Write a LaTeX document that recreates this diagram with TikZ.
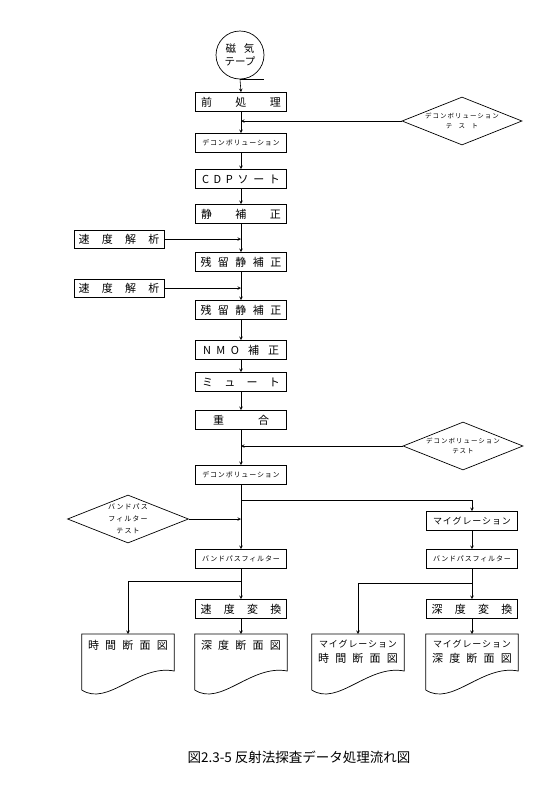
\documentclass[tikz,border=0pt]{standalone}
\usepackage{fontspec}
\setmainfont{Noto Sans CJK JP}
\usepackage{tikz}
\usetikzlibrary{shapes,arrows,positioning,calc}

\begin{document}
\begin{tikzpicture}[
    x=1pt, y=-1pt,
    every node/.style={align=center},
    process/.style={rectangle, draw, line width=0.7pt, minimum width=91pt, minimum height=19pt, inner sep=0pt, font=\fontsize{11}{12}\selectfont},
    smallproc/.style={process, font=\fontsize{7}{8}\selectfont\addfontfeature{LetterSpace=12}},
    spaced/.style={text width=#1},
    decision/.style={diamond, draw, line width=0.7pt, aspect=2.5, minimum width=120pt, minimum height=48pt, inner sep=0pt, font=\fontsize{6.5}{10}\selectfont\addfontfeature{LetterSpace=15}},
    tape/.style={circle, draw, line width=0.7pt, minimum size=48pt, inner sep=0pt, font=\fontsize{10.5}{12.5}\selectfont},
    docsheet/.style={rectangle, anchor=north, minimum width=92pt, inner xsep=0pt, inner ysep=6pt, font=\fontsize{11}{15}\selectfont},
    outline/.style={line width=0.7pt},
    arrow/.style={line width=0.6pt,->,>=stealth}
]
\useasboundingbox (0,0) rectangle (545,788);

% Main processing column
\node[tape] (tape) at (240,55) {磁\hspace{8pt}気\\テープ};
\node[process, spaced=80pt] (pre) at (241,102) {前\hfill 処\hfill 理};
\node[smallproc] (deconv1) at (241,143) {デコンボリューション};
\node[process, spaced=78pt] (cdp) at (241,179) {C\hfill D\hfill P\hfill ソ\hfill ー\hfill ト};
\node[process, spaced=80pt] (static) at (241,214) {静\hfill 補\hfill 正};
\node[process, spaced=81pt] (resid1) at (241,262) {残\hfill 留\hfill 静\hfill 補\hfill 正};
\node[process, spaced=81pt] (resid2) at (241,310) {残\hfill 留\hfill 静\hfill 補\hfill 正};
\node[process, spaced=76pt] (nmo) at (241,350) {N\enspace M\enspace O\hfill 補\hfill 正};
\node[process, spaced=78pt] (mute) at (241,382) {ミ\hfill ュ\hfill ー\hfill ト};
\node[process, spaced=56pt] (stack) at (241,420) {重\hfill 合};
\node[smallproc] (deconv2) at (241,475) {デコンボリューション};
\node[smallproc] (bpf_l) at (241,559) {バンドパスフィルター};
\node[process, spaced=81pt] (velconv) at (241,609) {速\hfill 度\hfill 変\hfill 換};

% Migration branch
\node[process, font=\fontsize{9}{10}\selectfont\addfontfeature{LetterSpace=10}] (migration) at (472,521) {マイグレーション};
\node[smallproc] (bpf_r) at (472,559) {バンドパスフィルター};
\node[process, spaced=81pt] (depthconv) at (472,609) {深\hfill 度\hfill 変\hfill 換};

% Side inputs
\node[process, minimum width=90pt, minimum height=18pt, spaced=81pt] (vel1) at (119,239) {速\hfill 度\hfill 解\hfill 析};
\node[process, minimum width=90pt, minimum height=18pt, spaced=81pt] (vel2) at (119,288) {速\hfill 度\hfill 解\hfill 析};
\node[decision] (decon_test1) at (462,121) {デコンボリューション\\テ\quad ス\quad ト};
\node[decision] (decon_test2) at (463,446) {デコンボリューション\\テスト};
\node[decision, minimum width=121pt, font=\fontsize{7}{12}\selectfont\addfontfeature{LetterSpace=15}] (bpf_test) at (128,519) {バンドパス\\フィルター\\テスト};

% Output sections
\node[docsheet, spaced=80pt] (time_sec) at (128,634) {時\hfill 間\hfill 断\hfill 面\hfill 図};
\node[docsheet, spaced=80pt] (depth_sec) at (241,634) {深\hfill 度\hfill 断\hfill 面\hfill 図};
\node[docsheet, spaced=80pt] (mig_time) at (358,634) {{\fontsize{9}{10}\selectfont\addfontfeature{LetterSpace=10}マイグレーション}\\時\hfill 間\hfill 断\hfill 面\hfill 図};
\node[docsheet, spaced=80pt] (mig_depth) at (472,634) {{\fontsize{9}{10}\selectfont\addfontfeature{LetterSpace=10}マイグレーション}\\深\hfill 度\hfill 断\hfill 面\hfill 図};
\foreach \d in {time_sec, depth_sec, mig_time, mig_depth}
  \draw[outline] (\d.north west) -- (\d.north east) -- ++(0,37) .. controls +(-36,-7) and +(26,17) .. ($(\d.north west)+(0,56)$) -- cycle;

% Flow
\draw[outline] (tape.south) -- ++(24,0);
\draw[arrow] (tape.south) -- (pre.north);
\draw[arrow] (pre) -- (deconv1);
\draw[arrow] (deconv1) -- (cdp);
\draw[arrow] (cdp) -- (static);
\draw[arrow] (static) -- (resid1);
\draw[arrow] (resid1) -- (resid2);
\draw[arrow] (resid2) -- (nmo);
\draw[arrow] (nmo) -- (mute);
\draw[arrow] (mute) -- (stack);
\draw[arrow] (stack) -- (deconv2);
\draw[arrow] (deconv2) -- (bpf_l);
\draw[arrow] (bpf_l) -- (velconv);
\draw[arrow] (velconv) -- (depth_sec.north);
\draw[arrow] (bpf_l.south) ++(0,12) -| (time_sec.north);
\draw[arrow] (deconv2.south) ++(0,15) -| (migration.north);
\draw[arrow] (migration) -- (bpf_r);
\draw[arrow] (bpf_r) -- (depthconv);
\draw[arrow] (depthconv) -- (mig_depth.north);
\draw[arrow] (bpf_r.south) ++(0,14) -| (mig_time.north);

% Side connections
\draw[arrow] (decon_test1.west) -- (decon_test1.west -| pre.south);
\draw[arrow] (vel1.east) -- (vel1.east -| static.south);
\draw[arrow] (vel2.east) -- (vel2.east -| resid1.south);
\draw[arrow] (decon_test2.west) -- (decon_test2.west -| stack.south);
\draw[arrow] (bpf_test.east) -- (bpf_test.east -| deconv2.south);

% Caption
\node[font=\fontsize{13.5}{15}\selectfont] (caption) at (299,757) {図2.3-5 反射法探査データ処理流れ図};

\end{tikzpicture}
\end{document}
